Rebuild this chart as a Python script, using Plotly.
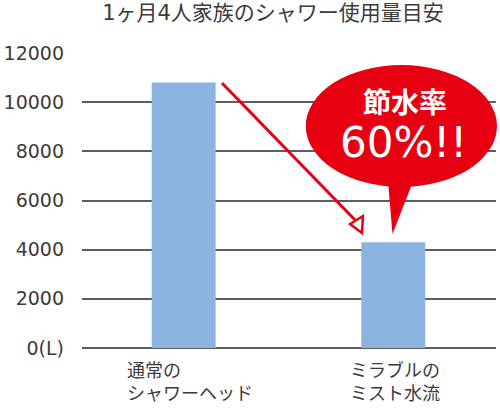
import plotly.graph_objects as go

# ---- data ----
categories = ["通常の<br>シャワーヘッド", "ミラブルの<br>ミスト水流"]
values = [10800, 4300]
tick_vals = [0, 2000, 4000, 6000, 8000, 10000, 12000]
tick_text = ["0(L)", "2000", "4000", "6000", "8000", "10000", "12000"]
title_text = "1ヶ月4人家族のシャワー使用量目安"
bubble_line1 = "節水率"
bubble_line2 = "60%!!"

W, H = 500, 408
L, R, T, B = 76, 4, 53, 60
PW, PH = W - L - R, H - T - B

def px(x):
    return (x - L) / PW

def py(y):
    return (H - B - y) / PH

RED = "#E60012"
BLUE = "#8BB3E0"
TXT = "#3E3A39"
GRID = "#5f5d5c"
FONT = "DejaVu Sans, Noto Sans CJK JP, sans-serif"

fig = go.Figure()
fig.add_trace(go.Bar(
    x=[0, 1], y=values, width=0.305, marker=dict(color=BLUE, line=dict(width=0)),
    hoverinfo="skip"
))

shapes = []
# arrow line
shapes.append(dict(type="line", xref="paper", yref="paper",
                   x0=px(218), y0=py(83), x1=px(354), y1=py(221),
                   line=dict(color=RED, width=3)))
# open arrowhead
shapes.append(dict(type="path", xref="paper", yref="paper",
                   path=f"M {px(360)} {py(233)} L {px(348)} {py(224)} L {px(361)} {py(216)} Z",
                   fillcolor="white", line=dict(color=RED, width=2.5)))
# bubble tail
shapes.append(dict(type="path", xref="paper", yref="paper",
                   path=f"M {px(386)} {py(176)} L {px(414)} {py(176)} L {px(391)} {py(234)} Z",
                   fillcolor=RED, line=dict(width=0)))
# bubble ellipse
shapes.append(dict(type="circle", xref="paper", yref="paper",
                   x0=px(303), x1=px(497), y0=py(187), y1=py(65),
                   fillcolor=RED, line=dict(width=0)))

annotations = []
annotations.append(dict(xref="paper", yref="paper", x=px(404), y=py(101),
                        text=f"<b>{bubble_line1}</b>", showarrow=False,
                        font=dict(family="Noto Sans CJK JP", size=28, color="white"),
                        xanchor="center", yanchor="middle"))
annotations.append(dict(xref="paper", yref="paper", x=px(402), y=py(142),
                        text=bubble_line2, showarrow=False,
                        font=dict(family=FONT, size=42, color="white"),
                        xanchor="center", yanchor="middle"))
label_shift = [6, 2]
for i, c in enumerate(categories):
    annotations.append(dict(xref="x", yref="paper", x=i, y=0, yshift=-10,
                            xshift=label_shift[i],
                            text=c, showarrow=False, align="left",
                            xanchor="center", yanchor="top",
                            font=dict(family=FONT, size=18, color=TXT)))

fig.update_layout(
    width=W, height=H,
    margin=dict(l=L, r=R, t=T, b=B, pad=0),
    paper_bgcolor="white", plot_bgcolor="white",
    showlegend=False,
    title=dict(text=title_text, x=273 / W, xanchor="center", y=1 - 13 / H,
               yanchor="middle", font=dict(family=FONT, size=21, color=TXT)),
    xaxis=dict(range=[-0.485, 1.49], showticklabels=False, showgrid=False,
               zeroline=False, showline=False, fixedrange=True),
    yaxis=dict(range=[0, 12000], tickvals=tick_vals, ticktext=tick_text,
               showgrid=True, gridcolor=GRID, gridwidth=1.5,
               zeroline=True, zerolinecolor=GRID, zerolinewidth=1.5,
               showline=False, ticks="", ticklabelstandoff=17,
               tickfont=dict(family=FONT, size=19, color=TXT), fixedrange=True),
    shapes=shapes, annotations=annotations,
)

fig.write_html("out.html", config={"displayModeBar": False},
               post_script="document.body.style.margin='0';")
